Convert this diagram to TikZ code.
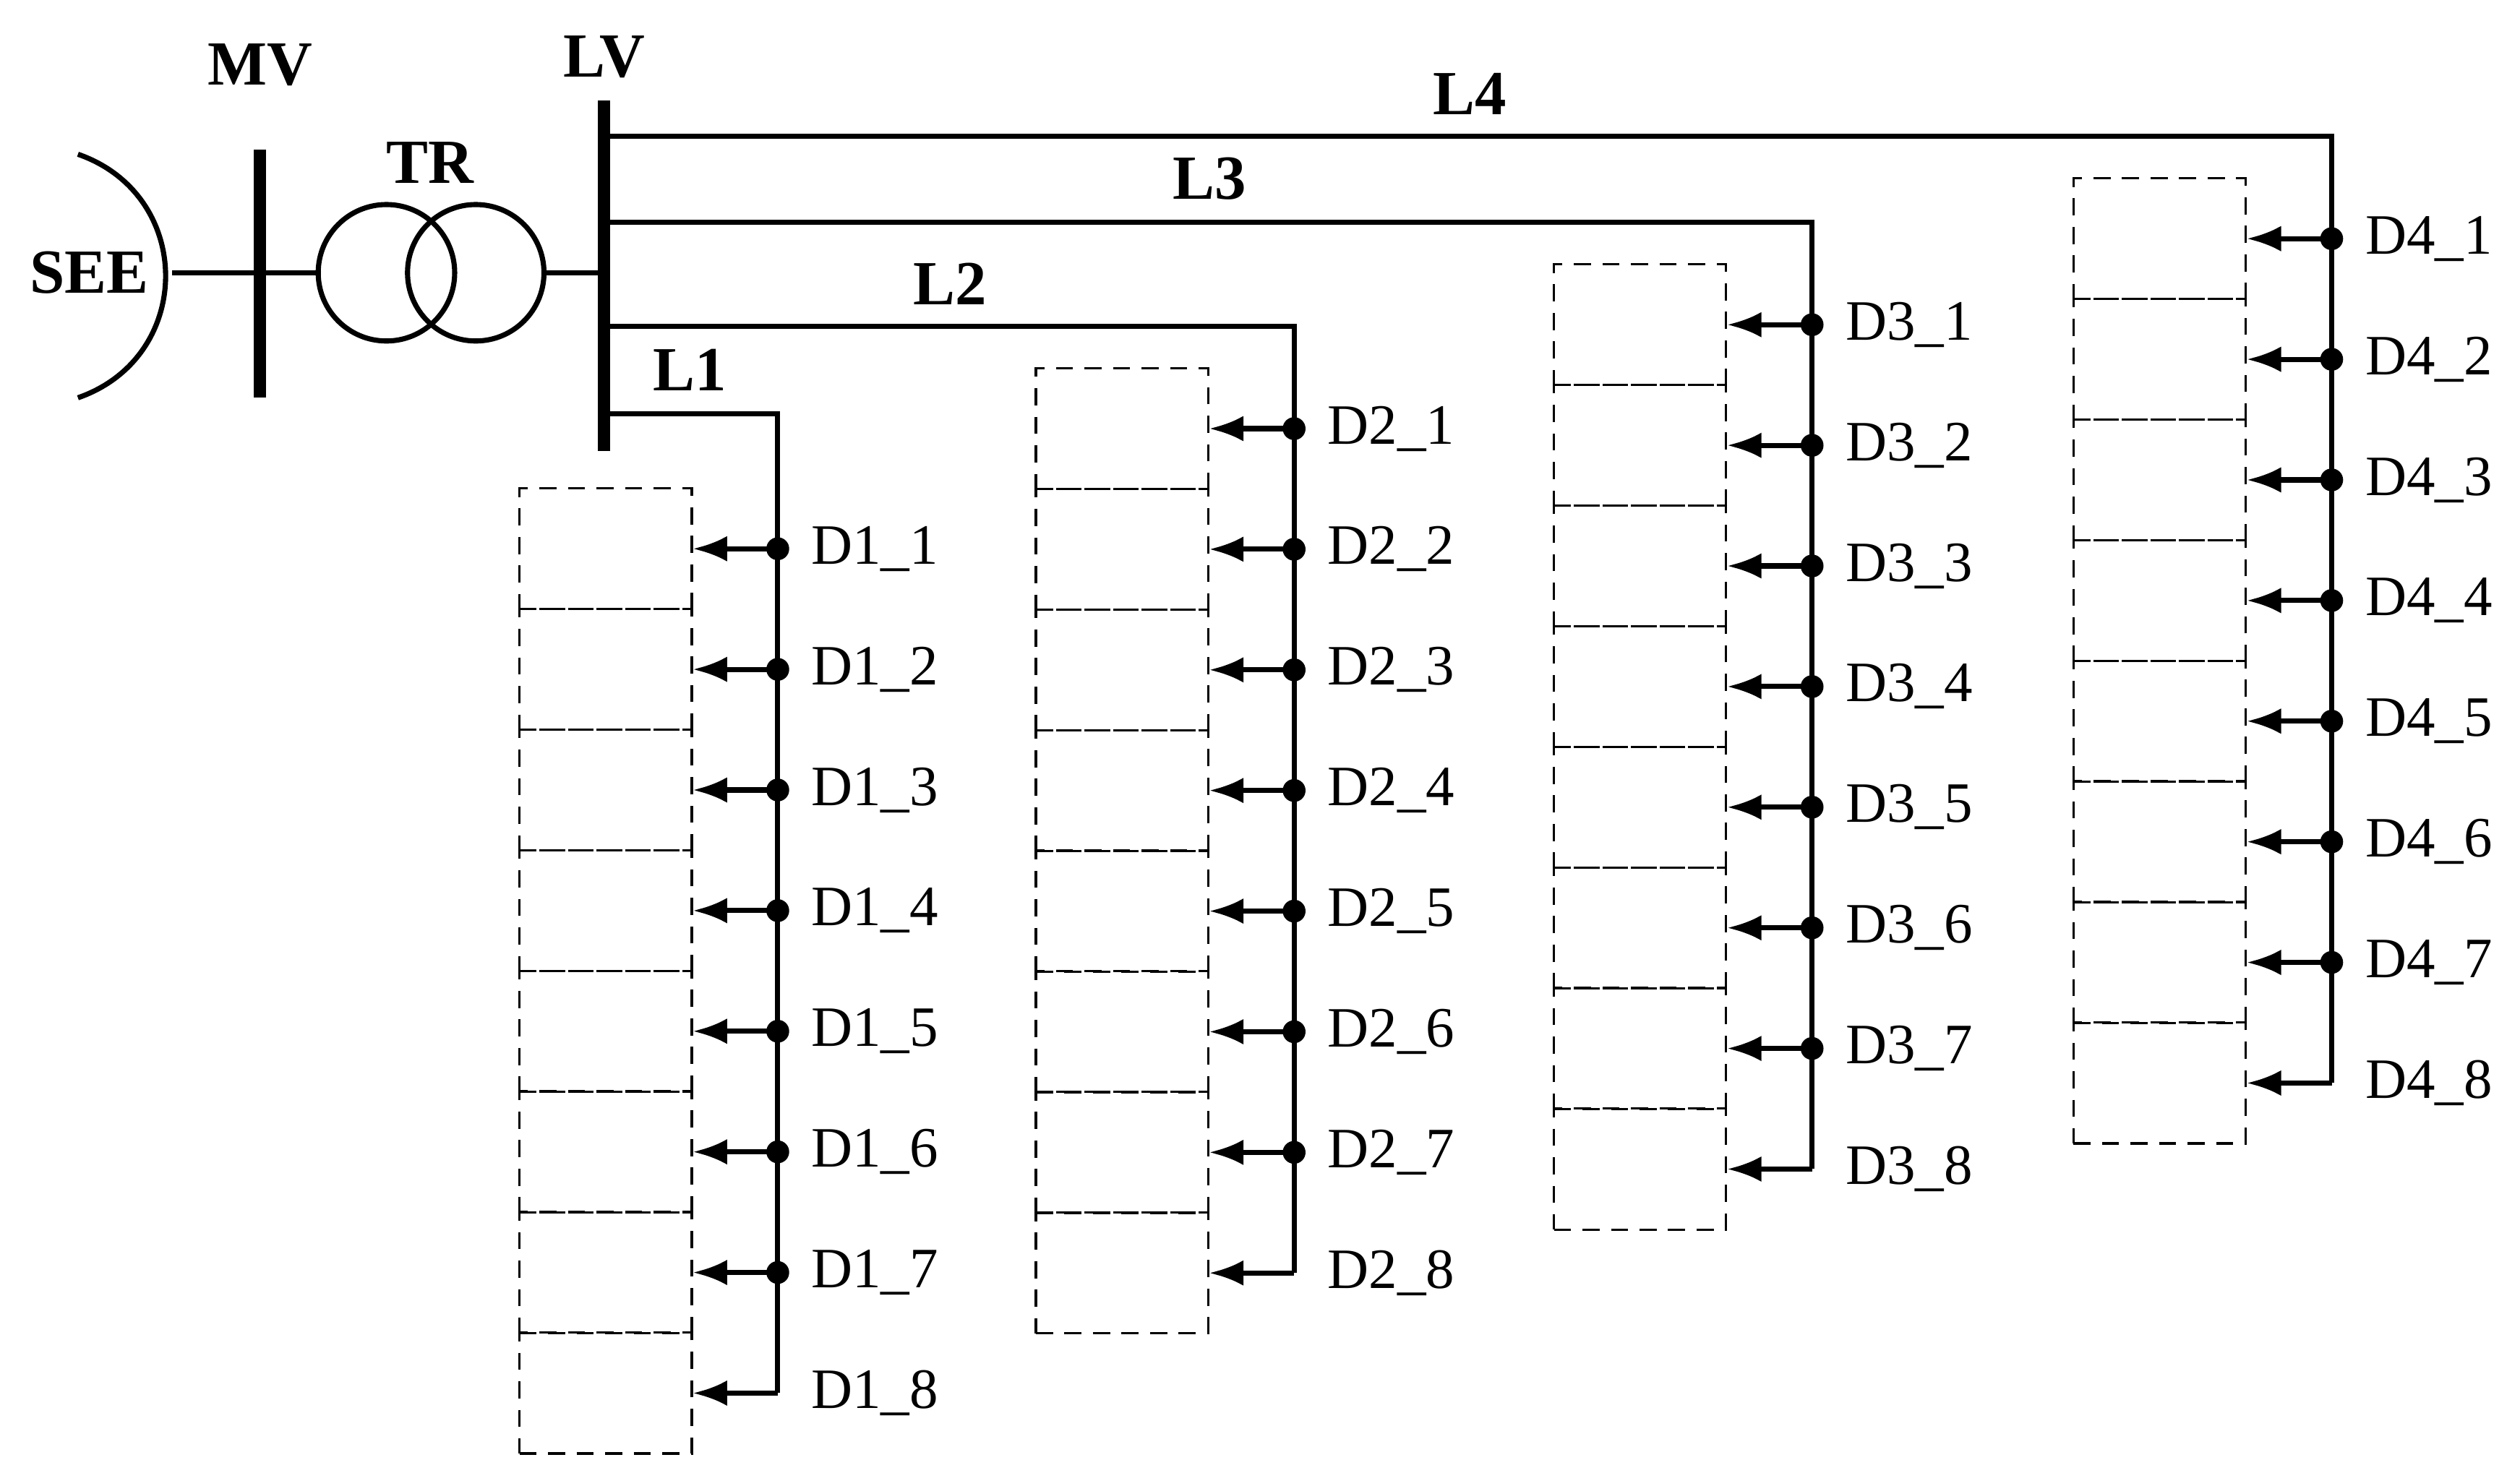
\documentclass[tikz,border=0pt]{standalone}
\usepackage{fontspec}
\setmainfont{Liberation Serif}
\usetikzlibrary{arrows.meta}
\begin{document}
\begin{tikzpicture}[x=0.01cm,y=-0.01cm,
  feeder/.style={line width=0.9pt},
  bus/.style={line width=2.2pt},
  box/.style={draw,densely dashed,line width=0.4pt,minimum width=1.06cm,minimum height=0.744cm,inner sep=0pt},
  tap/.style={line width=0.9pt,-{Latex[length=6pt,width=4.5pt]}},
  dot/.style={circle,fill,inner sep=0pt,minimum size=4pt},
  lab/.style={font=\fontsize{10}{12}\selectfont,anchor=west,inner sep=0pt},
  blab/.style={font=\bfseries\fontsize{11}{13}\selectfont,inner sep=0pt}]
\useasboundingbox (0,0) rectangle (1552,899);
% source
\node[blab] (see) at (55,168) {SEE};
\draw[feeder] (48,95) .. controls (120,120) and (120,220) .. (48,245);
\coordinate (s0) at (106,168);
\coordinate (mvt) at (160,92); \coordinate (mvb) at (160,245);
\draw[bus] (mvt) -- (mvb);
\node[blab] (mv) at (160,40) {MV};
\node[draw,circle,line width=0.9pt,minimum size=0.84cm,inner sep=0pt] (c1) at (238,168) {};
\node[draw,circle,line width=0.9pt,minimum size=0.84cm,inner sep=0pt] (c2) at (293,168) {};
\node[blab] (tr) at (265,100) {TR};
\draw[feeder] (s0) -- (c1.west);
\coordinate (lvt) at (372,62); \coordinate (lvb) at (372,278);
\coordinate (lvm) at (372,168);
\draw[feeder] (c2.east) -- (lvm);
\draw[bus] (lvt) -- (lvb);
\node[blab] (lv) at (372,35) {LV};
% feeders: index / feeder y / feeder x / first tap y / box left / label x,y
\foreach \n/\fy/\fx/\ty/\lx/\ly in {1/255/479/338/425/228, 2/201/797/264/585/175, 3/137/1116/200/745/110, 4/84/1436/147/905/58}{
  \coordinate (f\n s) at (372,\fy);
  \coordinate (f\n c) at (\fx,\fy);
  \coordinate (f\n e) at (\fx,\ty+520);
  \draw[feeder] (f\n s) -- (f\n c) -- (f\n e);
  \node[blab] (L\n) at (\lx,\ly) {L\n};
  \foreach \k in {1,...,8}{
    \pgfmathsetmacro{\yy}{\ty+74.3*(\k-1)}
    \node[box] (b\n\k) at (\fx-106,\yy) {};
    \coordinate (t\n\k) at (\fx,\yy);
    \draw[tap] (t\n\k) -- (b\n\k.east);
    \node[lab] (d\n\k) at (\fx+20,\yy) {D\n\_\k};
    \ifnum\k<8 \node[dot] at (t\n\k) {};\fi
  }
}
\end{tikzpicture}
\end{document}
